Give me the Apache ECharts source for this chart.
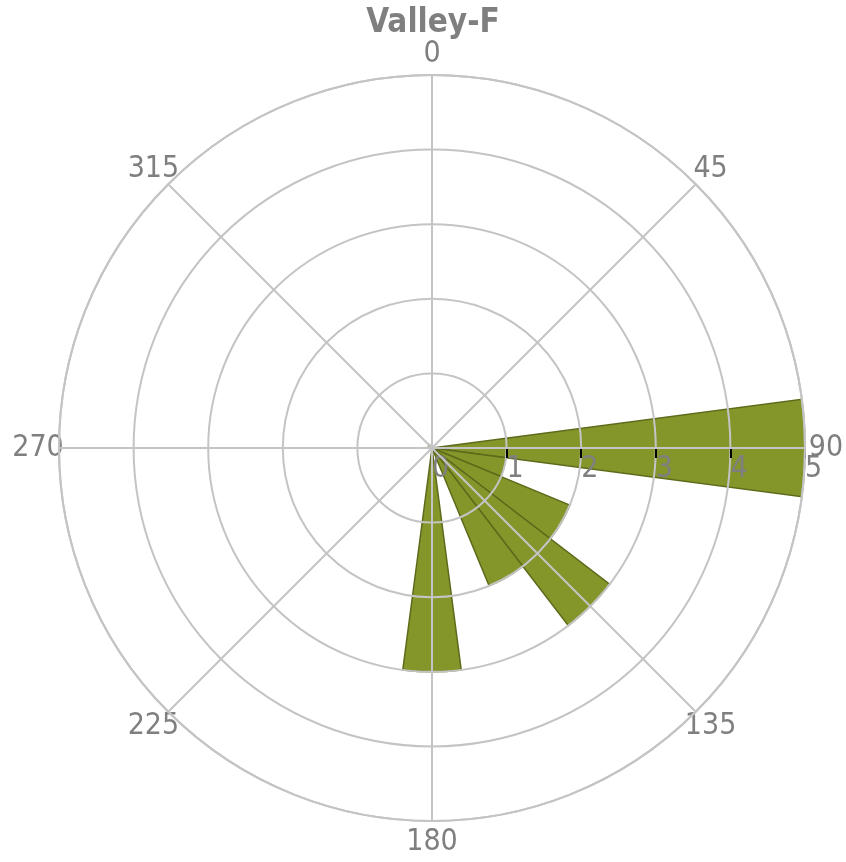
<!DOCTYPE html>
<html>
<head>
<meta charset="utf-8">
<script src="https://cdn.jsdelivr.net/npm/echarts@6/dist/echarts.min.js"></script>
<style>
  html, body { margin: 0; padding: 0; background: #ffffff; }
  #chart { width: 846px; height: 862px; }
</style>
</head>
<body>
<div id="chart"></div>
<script>
// Direction sectors (compass degrees, 15-degree bins) and frequency per sector
const directions = [0, 15, 30, 45, 60, 75, 90, 105, 120, 135, 150, 165,
                    180, 195, 210, 225, 240, 255, 270, 285, 300, 315, 330, 345];
const frequency  = [0, 0, 0, 0, 0, 0, 5, 1, 2, 3, 2, 0,
                    3, 0, 0, 0, 0, 0, 0, 0, 0, 0, 0, 0];
// Compass labels around the rim and the radial scale range
const angleLabels = [0, 45, 90, 135, 180, 225, 270, 315];
const radialTicks = [0, 1, 2, 3, 4, 5];
const chartTitle = 'Valley-F';

const FONT = "'DejaVu Sans Condensed', 'DejaVu Sans', sans-serif";
const GRAY_TEXT = '#7f7f7f';
const GRID = '#c4c4c4';
const CENTER = [432, 448];

// The radius axis is drawn along the angle axis start; start the angle
// scale at 90 (east) so the radial scale runs toward 90 degrees.
const ANGLE_MIN = 90;
const toAxisAngle = a => (a < ANGLE_MIN ? a + 360 : a);

const barData = directions.map((d, i) => [frequency[i], toAxisAngle(d)]);
// Rim labels sit on the outer edge of a second, slightly larger polar system
const rimLabelData = angleLabels.map(a => ({ name: String(a), value: [1, toAxisAngle(a)] }));

const angleBase = {
  type: 'value',
  min: ANGLE_MIN,
  max: ANGLE_MIN + 360,
  interval: 45,
  startAngle: 0,
  clockwise: true
};

const chart = echarts.init(document.getElementById('chart'), null, { renderer: 'canvas' });
chart.setOption({
  animation: false,
  backgroundColor: '#ffffff',
  title: {
    text: chartTitle,
    left: 428,
    top: 2,
    textAlign: 'center',
    textStyle: { fontFamily: FONT, fontSize: 33, fontWeight: 'bold', color: GRAY_TEXT }
  },
  polar: [
    { center: CENTER, radius: 373 },
    { center: CENTER, radius: 394 }
  ],
  angleAxis: [
    Object.assign({}, angleBase, {
      polarIndex: 0,
      z: 11,
      axisLine: { show: true, lineStyle: { color: GRID, width: 2 } },
      axisTick: { show: false },
      splitLine: { show: true, lineStyle: { color: GRID, width: 2 } },
      axisLabel: { show: false }
    }),
    Object.assign({}, angleBase, { polarIndex: 1, show: false })
  ],
  radiusAxis: [
    {
      polarIndex: 0,
      type: 'value',
      min: radialTicks[0],
      max: radialTicks[radialTicks.length - 1],
      interval: 1,
      z: 10,
      axisLine: { show: true, lineStyle: { color: GRID, width: 2 } },
      // ticks hang below the axis line, on the label side
      axisTick: { show: true, inside: false, length: -10, lineStyle: { color: '#000000', width: 2 } },
      splitLine: { show: true, lineStyle: { color: GRID, width: 2 } },
      axisLabel: {
        margin: -6,
        align: 'left',
        verticalAlign: 'top',
        fontFamily: FONT,
        fontSize: 30,
        color: GRAY_TEXT
      }
    },
    { polarIndex: 1, type: 'value', min: 0, max: 1, show: false }
  ],
  series: [
    {
      type: 'bar',
      coordinateSystem: 'polar',
      polarIndex: 0,
      data: barData,
      barCategoryGap: '0%',
      itemStyle: { color: '#849629', borderColor: '#5c6b1b', borderWidth: 1.5 }
    },
    {
      type: 'scatter',
      coordinateSystem: 'polar',
      polarIndex: 1,
      data: rimLabelData,
      clip: false,
      silent: true,
      symbolSize: 1,
      itemStyle: { color: 'rgba(0,0,0,0)', opacity: 1 },
      label: {
        show: true,
        position: 'inside',
        formatter: p => p.name,
        fontFamily: FONT,
        fontSize: 30,
        color: GRAY_TEXT
      }
    }
  ]
});
</script>
</body>
</html>
